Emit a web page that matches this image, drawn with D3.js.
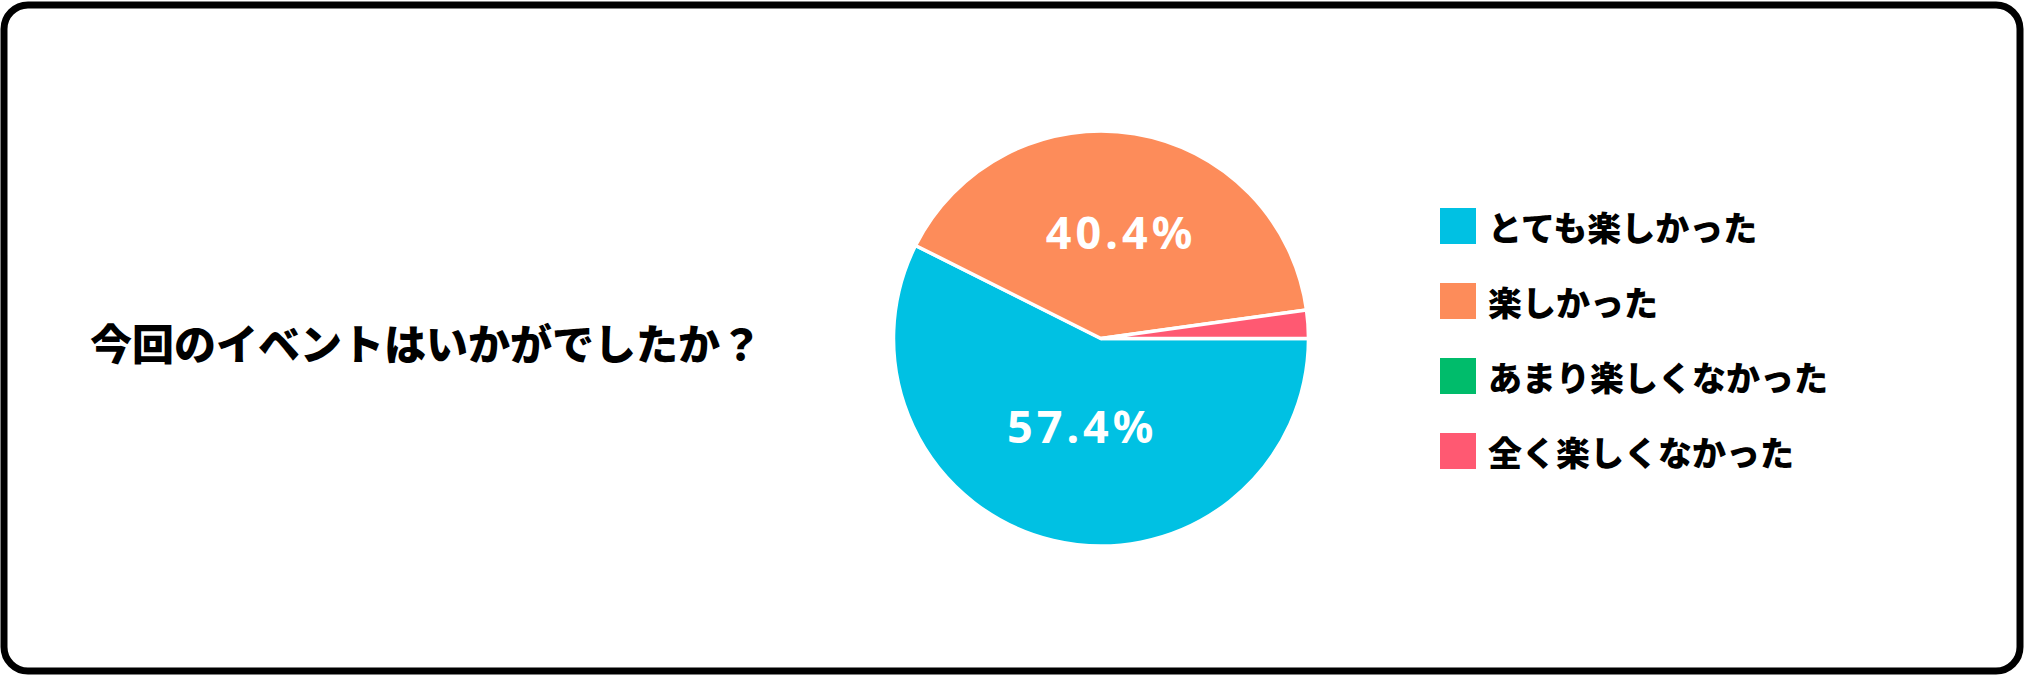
<!DOCTYPE html>
<html>
<head>
<meta charset="utf-8">
<script src="https://cdn.jsdelivr.net/npm/d3@7"></script>
<style>
  html, body { margin: 0; padding: 0; background: #fff; }
  svg { display: block; }
</style>
</head>
<body>
<svg id="chart" width="2025" height="676"></svg>
<script>
const title = "今回のイベントはいかがでしたか？";
const categories = ["とても楽しかった", "楽しかった", "あまり楽しくなかった", "全く楽しくなかった"];
const values = [57.4, 40.4, 0, 2.2];
const colors = ["#00C1E3", "#FD8C5A", "#00BC6B", "#FF5972"];

const W = 2025, H = 676;
const svg = d3.select("#chart");

// frame
svg.append("rect")
  .attr("x", 4).attr("y", 5)
  .attr("width", 2016).attr("height", 666)
  .attr("rx", 24).attr("ry", 24)
  .attr("fill", "#fff").attr("stroke", "#000").attr("stroke-width", 7);

// title
svg.append("text")
  .attr("x", 90).attr("y", 341)
  .attr("dominant-baseline", "central")
  .style("font-family", "'Noto Sans CJK JP', 'Noto Sans', sans-serif")
  .style("font-weight", 900)
  .style("font-size", "42px")
  .attr("fill", "#000")
  .text(title);

// pie
const cx = 1101, cy = 338.5, R = 207.5;
const data = categories.map((c, i) => ({ name: c, value: values[i], color: colors[i] }));
const pie = d3.pie().value(d => d.value).sort(null)
  .startAngle(Math.PI / 2).endAngle(Math.PI / 2 + 2 * Math.PI);
const arcs = pie(data);
const arc = d3.arc().innerRadius(0).outerRadius(R);
const labelArc = d3.arc().innerRadius(99).outerRadius(99);

const g = svg.append("g").attr("transform", `translate(${cx},${cy})`);
g.selectAll("path.slice")
  .data(arcs.filter(a => a.value > 0))
  .join("path")
  .attr("class", "slice")
  .attr("d", arc)
  .attr("fill", d => d.data.color)
  .attr("stroke", "#fff")
  .attr("stroke-width", 3.5)
  .attr("stroke-linejoin", "miter");

g.selectAll("text.pct")
  .data(arcs.filter(a => a.value >= 10))
  .join("text")
  .attr("class", "pct")
  .attr("transform", d => { const [x, y] = labelArc.centroid(d); return `translate(${x + 4},${y - 9})`; })
  .attr("text-anchor", "middle")
  .attr("dominant-baseline", "central")
  .style("font-family", "'Noto Sans', 'Open Sans', sans-serif")
  .style("font-weight", 700)
  .style("font-size", "45px")
  .style("letter-spacing", "4px")
  .attr("fill", "#fff")
  .text(d => d.data.value.toFixed(1) + "%");

// legend
const ly = d3.scalePoint().domain(categories).range([226, 451]);
const lg = svg.append("g");
const items = lg.selectAll("g.item").data(data).join("g")
  .attr("class", "item")
  .attr("transform", d => `translate(1440,${ly(d.name)})`);
items.append("rect")
  .attr("x", 0).attr("y", -18).attr("width", 36).attr("height", 36)
  .attr("fill", d => d.color);
items.append("text")
  .attr("x", 48).attr("y", 0)
  .attr("dominant-baseline", "central")
  .style("font-family", "'Noto Sans CJK JP', sans-serif")
  .style("font-weight", 900)
  .style("font-size", "34px")
  .attr("fill", "#000")
  .text(d => d.name);
</script>
</body>
</html>
